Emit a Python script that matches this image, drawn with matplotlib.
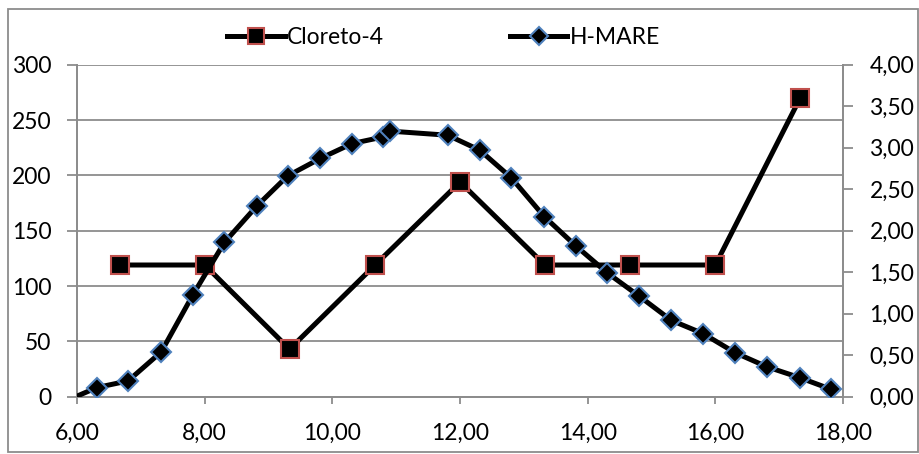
import matplotlib.pyplot as plt
from matplotlib.ticker import FuncFormatter, MultipleLocator
from matplotlib.patches import Rectangle

plt.rcParams['font.family'] = ['Lato', 'DejaVu Sans']

# Cloreto-4 (left axis)
cloreto_x = [6.67, 8.00, 9.33, 10.67, 12.00, 13.33, 14.67, 16.00, 17.33]
cloreto_y = [119, 119, 43, 119, 194, 119, 119, 119, 270]

# H-MARE (right axis)
hmare_x = [5.80, 6.31, 6.80, 7.32, 7.81, 8.31, 8.82, 9.30, 9.81, 10.31, 10.80, 10.90,
           11.81, 12.31, 12.80, 13.32, 13.81, 14.31, 14.81, 15.31, 15.81, 16.31,
           16.81, 17.32, 17.81]
hmare_y = [-0.06, 0.11, 0.19, 0.54, 1.22, 1.86, 2.30, 2.66, 2.87, 3.05, 3.13, 3.20,
           3.15, 2.97, 2.64, 2.17, 1.82, 1.49, 1.21, 0.92, 0.76, 0.53,
           0.36, 0.23, 0.09]

grid_c = '#8c8c8c'
fs = 16.5

fig = plt.figure(figsize=(9.2, 4.54), dpi=100)
ax = fig.add_axes([0.0837, 0.1262, 0.8326, 0.7313])
ax2 = ax.twinx()

l1, = ax.plot(cloreto_x, cloreto_y, color='black', lw=3.6, marker='s', ms=13,
              mfc='black', mec='#C0504D', mew=1.5, zorder=3, label='Cloreto-4')
l2, = ax2.plot(hmare_x, hmare_y, color='black', lw=3.6, marker='D', ms=10.5,
               mfc='black', mec='#4F81BD', mew=1.5, zorder=3, label='H-MARE')

ax.set_xlim(6, 18)
ax.set_ylim(0, 300)
ax2.set_ylim(0, 4)
ax.xaxis.set_major_locator(MultipleLocator(2))
ax.yaxis.set_major_locator(MultipleLocator(50))
ax2.yaxis.set_major_locator(MultipleLocator(0.5))
ax.xaxis.set_major_formatter(FuncFormatter(lambda v, p: f'{v:.2f}'.replace('.', ',')))
ax2.yaxis.set_major_formatter(FuncFormatter(lambda v, p: f'{v:.2f}'.replace('.', ',')))

ax.grid(axis='y', color=grid_c, lw=1.3)
ax.set_axisbelow(True)
for a in (ax, ax2):
    for s in a.spines.values():
        s.set_color(grid_c)
        s.set_linewidth(1.3)
    a.spines['top'].set_visible(False)
    a.tick_params(colors=grid_c, labelcolor='black', labelsize=fs, width=1.3)
ax.tick_params(axis='y', length=7, pad=11.5)
ax2.tick_params(axis='y', length=7, pad=12)
ax.tick_params(axis='x', length=5, pad=14)

fig.legend(handles=[l1, l2], loc='center left', bbox_to_anchor=(0.247, 0.918), ncol=2,
           frameon=False, fontsize=fs, handlelength=2.5, columnspacing=5.5,
           handletextpad=0.1, markerscale=0.9, borderaxespad=0, borderpad=0)

fig.patches.append(Rectangle((8 / 920, 2 / 454), 910 / 920, 443 / 454, transform=fig.transFigure,
                             fill=False, edgecolor=grid_c, lw=1.3))

fig.savefig('out.png', dpi=100)
